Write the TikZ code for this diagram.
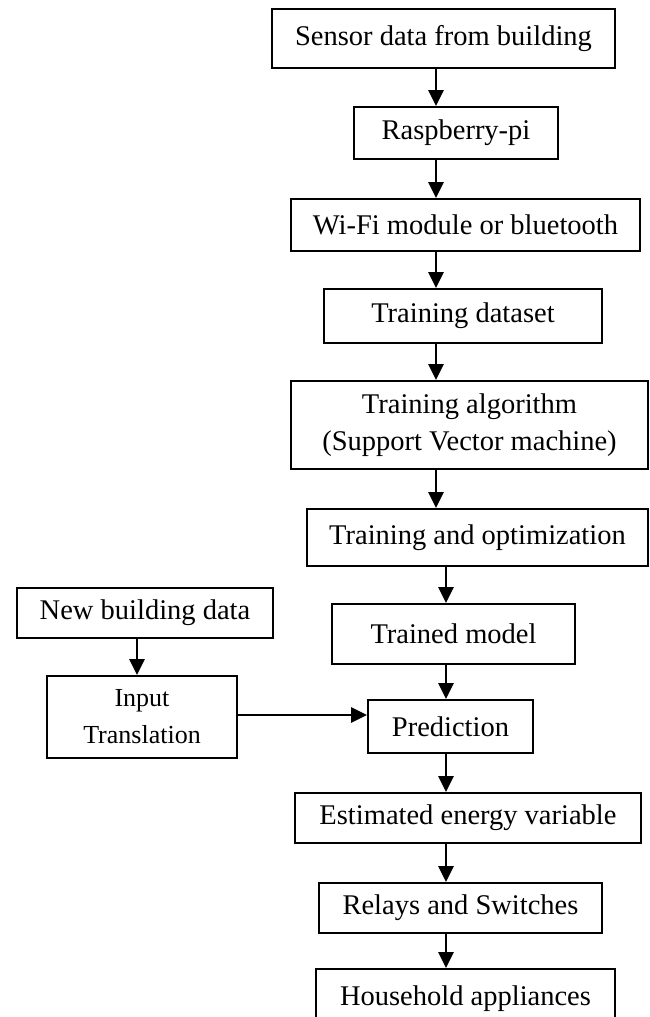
\documentclass[tikz,border=0pt]{standalone}
\usepackage{fontspec}
\setmainfont{Liberation Serif}
\usetikzlibrary{arrows.meta}
\begin{document}
\begin{tikzpicture}[x=1pt,y=-1pt,
  box/.style={draw=black,line width=2pt,inner sep=0pt,align=center,
    font=\fontsize{28.5}{37}\selectfont},
  arr/.style={line width=2.8pt,-{Triangle[length=16pt,width=15pt]}}]
\useasboundingbox (0,0) rectangle (649,1017);
\coordinate (c1) at (436,0);
\coordinate (c2) at (446,0);
\coordinate (c3) at (137,0);
\coordinate (cy) at (0,715);
\node[box,minimum width=343pt,minimum height=59pt] (sensor) at (443.5,38.5) {Sensor data from building};
\node[box,minimum width=204pt,minimum height=52pt] (rasp) at (456,133) {Raspberry-pi};
\node[box,minimum width=349pt,minimum height=52pt] (wifi) at (465.5,225) {Wi-Fi module or bluetooth};
\node[box,minimum width=278pt,minimum height=54pt] (dataset) at (463,316) {Training dataset};
\node[box,minimum width=357pt,minimum height=88pt] (algo) at (469.5,425) {Training algorithm\\(Support Vector machine)};
\node[box,minimum width=341pt,minimum height=57pt] (opt) at (477.5,537.5) {Training and optimization};
\node[box,minimum width=243pt,minimum height=60pt] (model) at (453.5,634) {Trained model};
\node[box,minimum width=256pt,minimum height=50pt] (newdata) at (145,613) {New building data};
\node[box,minimum width=190pt,minimum height=82pt,font=\fontsize{26}{37}\selectfont] (input) at (142,717) {Input\\Translation};
\node[box,minimum width=165pt,minimum height=53pt] (pred) at (450.5,726.5) {Prediction};
\node[box,minimum width=346pt,minimum height=50pt] (est) at (468,818) {Estimated energy variable};
\node[box,minimum width=283pt,minimum height=50pt] (relay) at (460.5,908) {Relays and Switches};
\node[box,minimum width=299pt,minimum height=60pt] (house) at (465.5,999) {Household appliances};
\draw[arr] (sensor.south -| c1) -- (rasp.north -| c1);
\draw[arr] (rasp.south -| c1) -- (wifi.north -| c1);
\draw[arr] (wifi.south -| c1) -- (dataset.north -| c1);
\draw[arr] (dataset.south -| c1) -- (algo.north -| c1);
\draw[arr] (algo.south -| c1) -- (opt.north -| c1);
\draw[arr] (opt.south -| c2) -- (model.north -| c2);
\draw[arr] (model.south -| c2) -- (pred.north -| c2);
\draw[arr] (pred.south -| c2) -- (est.north -| c2);
\draw[arr] (est.south -| c2) -- (relay.north -| c2);
\draw[arr] (relay.south -| c2) -- (house.north -| c2);
\draw[arr] (newdata.south -| c3) -- (input.north -| c3);
\draw[arr] (input.east |- cy) -- (pred.west |- cy);
\end{tikzpicture}
\end{document}
